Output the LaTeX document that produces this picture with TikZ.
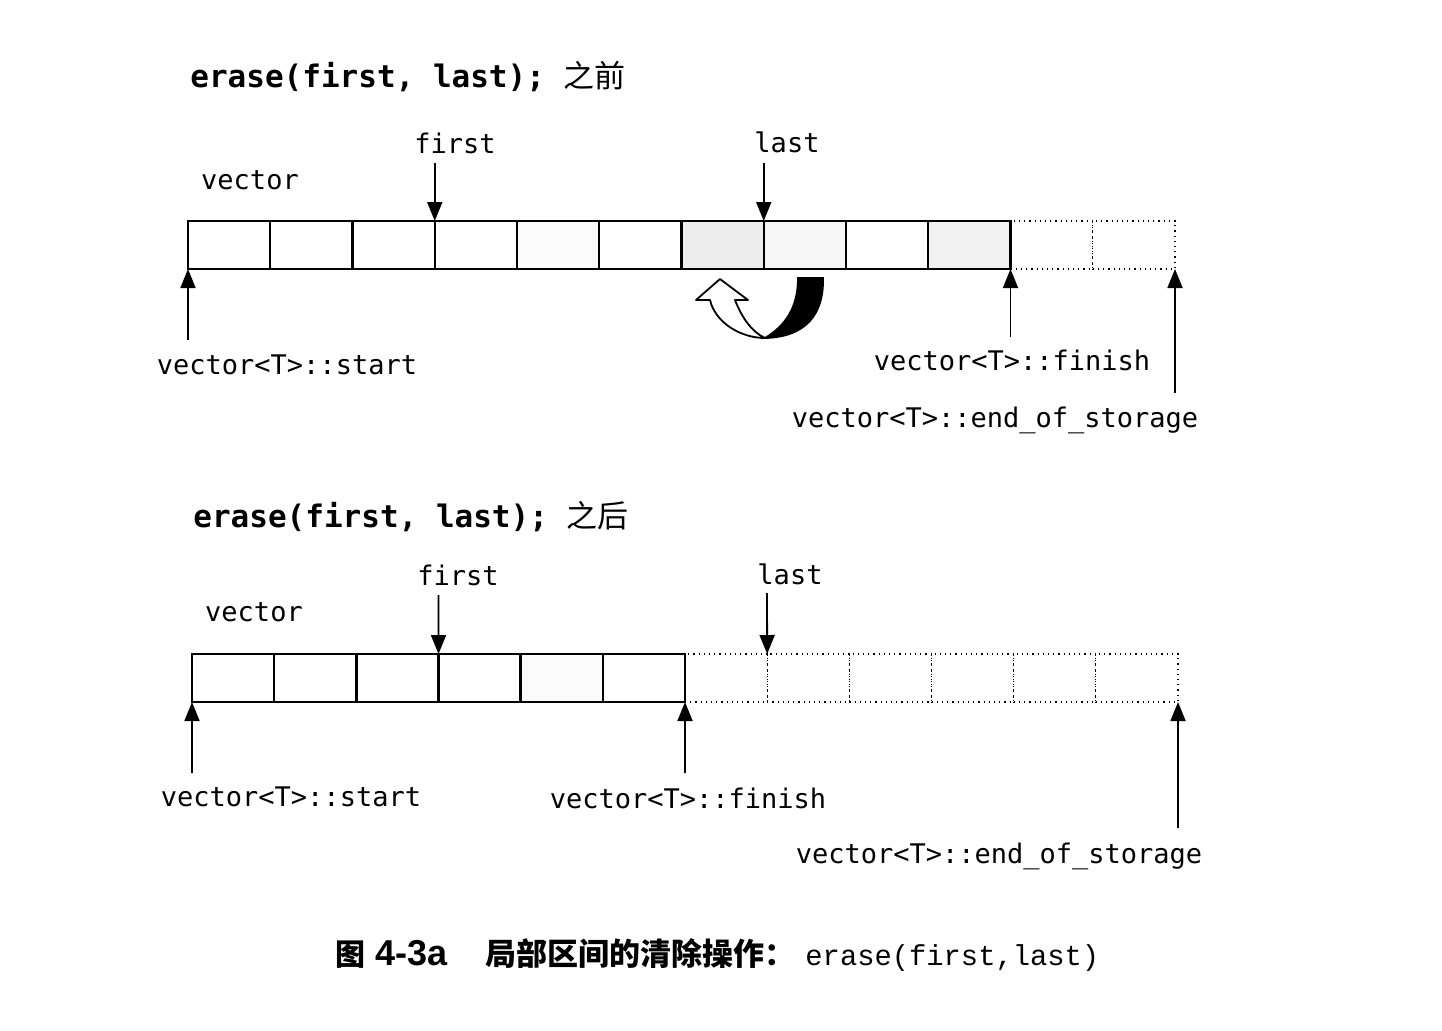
\documentclass[tikz,border=0pt]{standalone}
\usepackage{fontspec}
\setmonofont{DejaVu Sans Mono}
\newfontfamily\cjk{Noto Sans CJK SC}
\newfontfamily\capmono{Liberation Mono}
\newfontfamily\arialb{Liberation Sans}
\usetikzlibrary{arrows.meta}
\begin{document}
\begin{tikzpicture}[x=0.5pt,y=-0.5pt,
  lbl/.style={font=\ttfamily\fontsize{13.5}{14}\selectfont, inner sep=0pt},
  ttl/.style={font=\ttfamily\bfseries\fontsize{15.5}{16}\selectfont, inner sep=0pt, anchor=west},
  ptr/.style={line width=0.9pt, -{Triangle[length=9.5pt,width=7.5pt]}},
  cellbase/.style={minimum height=24pt, inner sep=0pt, outer sep=0pt},
  usedcell/.style={cellbase, draw, line width=1.2pt},
  freecell/.style={cellbase, draw, dotted, line width=0.6pt},
  speck/.style={fill=gray!#1}
]
\useasboundingbox (0,0) rectangle (1442,1030);

% ---------- top: before ----------
\node[ttl] (t0) at (190,77) {erase(first, last); {\cjk\mdseries 之前}};
\node[lbl] (tvec) at (250,180) {vector};
\node[lbl] (tfirst) at (455,143) {first};
\node[lbl] (tlast) at (787,142) {last};

\foreach \i in {11,12}
  \node[freecell, minimum width=41.125pt] (t\i) at ({188+82.25*(\i-0.5)},245) {};
\foreach \i/\g in {1/0,2/0,3/0,4/0,5/3,6/0,7/14,8/7,9/0,10/11}
  \node[usedcell, speck=\g, minimum width=41.125pt] (t\i) at ({188+82.25*(\i-0.5)},245) {};

\coordinate (tfa) at (434.75,163);
\coordinate (tla) at (763.75,163);
\draw[ptr] (tfa) -- (t4.north west);
\draw[ptr] (tla) -- (t8.north west);

\node[lbl] (tstart) at (287,365) {vector<T>::start};
\node[lbl] (tfinish) at (1012,360) {vector<T>::finish};
\node[lbl] (teos) at (995,420) {vector<T>::end\_of\_storage};
\coordinate (tsa) at (188,340);
\coordinate (tfi) at (1010.5,337);
\coordinate (tea) at (1175,393);
\draw[ptr] (tsa) -- (t1.south west);
\draw[ptr] (tfi) -- (t10.south east);
\draw[ptr] (tea) -- (t12.south east);

% curved move arrow
\draw[line width=0.9pt, fill=black]
  (798,278) -- (823,278) .. controls (824,315) and (805,337) .. (765,338)
  .. controls (785,326) and (798,308) .. (798,278) -- cycle;
\draw[line width=0.9pt, fill=white, line join=round]
  (765,338) .. controls (740,338) and (715,322) .. (710,300)
  -- (696,300) -- (720,279) -- (748,300) -- (735,300)
  .. controls (742,318) and (752,332) .. (765,338) -- cycle;

% ---------- bottom: after ----------
\node[ttl] (b0) at (193,517) {erase(first, last); {\cjk\mdseries 之后}};
\node[lbl] (bvec) at (254,612) {vector};
\node[lbl] (bfirst) at (458,575) {first};
\node[lbl] (blast) at (790,574) {last};

\foreach \i in {7,...,12}
  \node[freecell, minimum width=41.083pt] (b\i) at ({192+82.17*(\i-0.5)},678) {};
\foreach \i/\g in {1/0,2/0,3/0,4/0,5/3,6/0}
  \node[usedcell, speck=\g, minimum width=41.083pt] (b\i) at ({192+82.17*(\i-0.5)},678) {};

\coordinate (bfa) at (438.5,595);
\coordinate (bla) at (767,593);
\draw[ptr] (bfa) -- (b4.north west);
\draw[ptr] (bla) -- (b8.north west);

\node[lbl] (bstart) at (291,797) {vector<T>::start};
\node[lbl] (bfinish) at (688,798) {vector<T>::finish};
\node[lbl] (beos) at (999,856) {vector<T>::end\_of\_storage};
\coordinate (bsa) at (192,773);
\coordinate (bfi) at (685,773);
\coordinate (bea) at (1178,828);
\draw[ptr] (bsa) -- (b1.south west);
\draw[ptr] (bfi) -- (b6.south east);
\draw[ptr] (bea) -- (b12.south east);

% ---------- caption ----------
\node[anchor=west, inner sep=0pt] (cap) at (335,955)
  {{\cjk\bfseries\fontsize{15}{16}\selectfont 图}\hspace{5pt}{\arialb\bfseries\fontsize{18}{18}\selectfont 4-3a}\hspace{19pt}{\cjk\bfseries\fontsize{15.5}{16}\selectfont 局部区间的清除操作：}\hspace{5pt}{\capmono\fontsize{14.4}{15}\selectfont erase(first,last)}};
\end{tikzpicture}
\end{document}
